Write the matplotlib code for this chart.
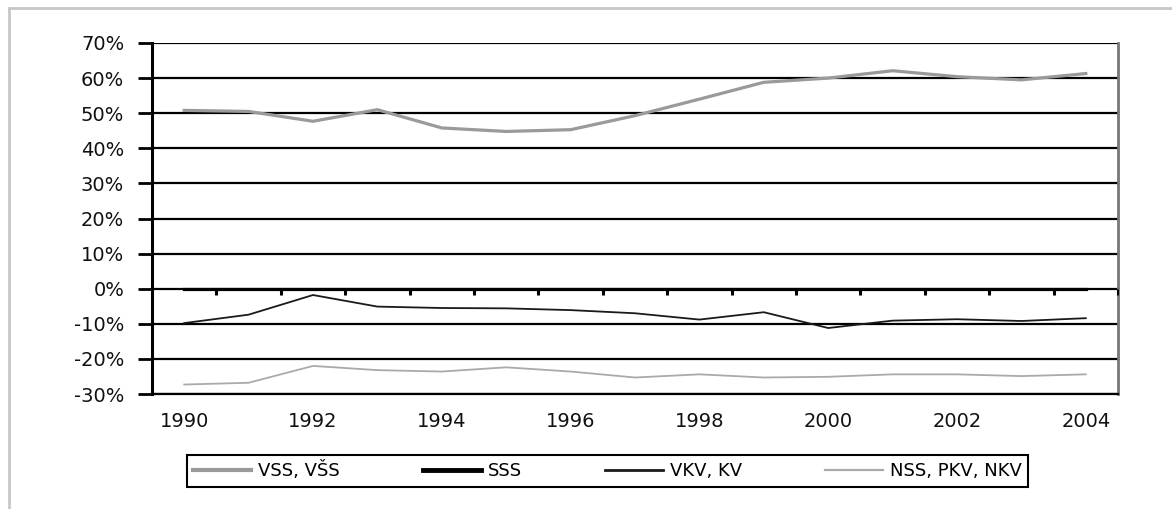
import matplotlib
matplotlib.use("Agg")
import matplotlib.pyplot as plt
from matplotlib.lines import Line2D
import numpy as np

years = list(range(1990, 2005))
vss = [50.8, 50.5, 47.7, 51.0, 45.8, 44.8, 45.3, 49.3, 54.0, 58.8, 60.0, 62.1, 60.4, 59.5, 61.3]
sss = [0.0] * 15
vkv = [-9.8, -7.4, -1.8, -5.1, -5.5, -5.6, -6.1, -7.0, -8.8, -6.7, -11.2, -9.1, -8.7, -9.2, -8.4]
nss = [-27.3, -26.8, -22.0, -23.2, -23.6, -22.4, -23.6, -25.3, -24.4, -25.3, -25.1, -24.4, -24.4, -24.9, -24.4]
labels = ["VSS, VŠS", "SSS", "VKV, KV", "NSS, PKV, NKV"]
yticks = list(range(-30, 71, 10))
xtick_years = years[::2]

fig = plt.figure(figsize=(11.72, 5.09), dpi=100)
ax = fig.add_axes([152/1172, 1-394/509, (1118-152)/1172, (394-43)/509])

for yv in yticks:
    ax.axhline(yv, color="black", lw=1.6, zorder=1)

x = np.array(years)
l1, = ax.plot(x, vss, color="#9a9a9a", lw=2.3, zorder=3)
l2, = ax.plot(x, sss, color="black", lw=2.3, zorder=3)
l3, = ax.plot(x, vkv, color="#1a1a1a", lw=1.3, zorder=3)
l4, = ax.plot(x, nss, color="#aaaaaa", lw=1.3, zorder=3)

# category-style tick marks on the zero axis line
mid = np.append(x[:-1] + 0.5, x[-1] + 0.5)
ax.plot(mid, np.zeros(len(mid)), linestyle="none",
        marker=3, ms=4.5, mew=2.2, color="black", zorder=4)

ax.set_xlim(years[0] - 0.5, years[-1] + 0.5)
ax.set_ylim(-30, 70)
ax.set_yticks(yticks)
ax.set_yticklabels([f"{v}%" for v in yticks], fontsize=14, family="DejaVu Sans", color="#111111")
ax.set_xticks(xtick_years)
ax.set_xticklabels([str(v) for v in xtick_years], fontsize=14, family="DejaVu Sans", color="#111111")
ax.tick_params(axis="x", length=0, pad=13)
ax.tick_params(axis="y", length=10, width=2, direction="out", pad=10)

ax.spines["top"].set_visible(False)
ax.spines["left"].set_linewidth(2.2)
ax.spines["left"].set_color("black")
ax.spines["bottom"].set_linewidth(1.6)
ax.spines["right"].set_linewidth(2.0)
ax.spines["right"].set_color("#777777")

leg = fig.legend([l1, l2, l3, l4], labels, loc="center", mode="expand",
                 bbox_to_anchor=(187/1172, 1-488/509, 841/1172, 34/509), ncol=4,
                 frameon=True, fancybox=False, edgecolor="black", framealpha=1,
                 prop={"family": "DejaVu Sans", "size": 13},
                 handlelength=3.2, handletextpad=0.4, borderpad=0.35,
                 borderaxespad=0)
leg.get_frame().set_linewidth(1.5)
for h, w in zip(leg.get_lines(), [3.0, 3.5, 2.0, 1.6]):
    h.set_linewidth(w)

# outer frame lines (partial border)
fig.add_artist(Line2D([9/1172, 9/1172], [0, 1-8/509], transform=fig.transFigure,
                      color="#c8c8c8", lw=2))
fig.add_artist(Line2D([9/1172, 1], [1-8/509, 1-8/509], transform=fig.transFigure,
                      color="#c8c8c8", lw=2))

fig.savefig("out.png", dpi=100)
